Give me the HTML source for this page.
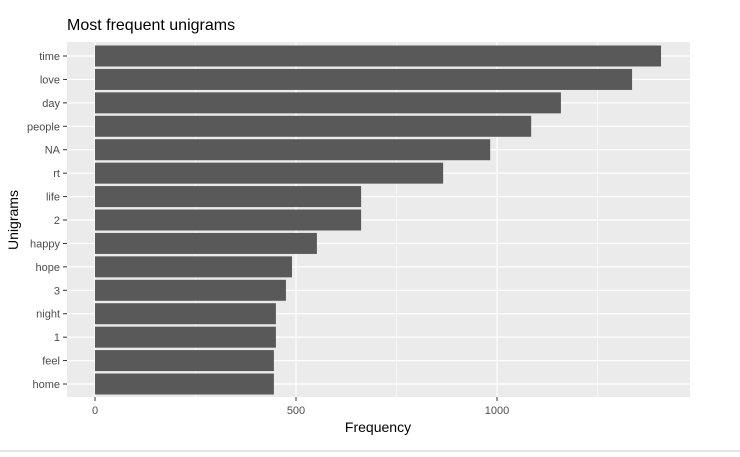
<!DOCTYPE html>
<html><head><meta charset="utf-8"><style>
body{margin:0;background:#fff;width:740px;height:452px;overflow:hidden;font-family:"Liberation Sans",Arial,sans-serif}
</style></head><body>
<svg width="740" height="452">
<rect x="0" y="450" width="740" height="2" fill="#e6e6e6"/>
<text x="67" y="30" font-size="16" fill="#000">Most frequent unigrams</text>
<rect x="67" y="42" width="623" height="355" fill="#ebebeb"/>
<g id="grid"></g><g id="bars"></g><g id="axes"></g>
<text x="378" y="432" font-size="14" text-anchor="middle" fill="#000">Frequency</text>
<text transform="translate(18,220) rotate(-90)" font-size="14" text-anchor="middle" fill="#000">Unigrams</text>
</svg>
<script>
const categories=["time","love","day","people","NA","rt","life","2","happy","hope","3","night","1","feel","home"];
const values=[1408,1336,1159,1085,983,866,662,662,552,490,475,450,450,445,445];
const xTicks=[0,500,1000];
const ns="http://www.w3.org/2000/svg";
const x0=95,pxPer=0.402,rowTop=56,rowStep=23.43,bh=21;
const xs=v=>x0+v*pxPer, ys=i=>rowTop+i*rowStep;
function mk(t,a,p){const e=document.createElementNS(ns,t);for(const k in a)e.setAttribute(k,a[k]);p.appendChild(e);return e;}
const grid=document.getElementById('grid'),bars=document.getElementById('bars'),axes=document.getElementById('axes');
[250,750,1250].forEach(v=>{const l=mk('line',{x1:xs(v),x2:xs(v),y1:42,y2:397,stroke:'#fff','stroke-width':0.6},grid);

});
xTicks.forEach(v=>{const l=mk('line',{x1:xs(v),x2:xs(v),y1:42,y2:397,stroke:'#fff','stroke-width':1.2},grid);


const t=mk('line',{x1:xs(v),x2:xs(v),y1:397,y2:401,stroke:'#333'},axes);


const tx=mk('text',{x:xs(v),y:414,'font-size':11,'text-anchor':'middle',fill:'#4d4d4d'},axes);tx.textContent=v;

});
categories.forEach((c,i)=>{const y=ys(i);
const g=mk('line',{x1:67,x2:690,y1:y,y2:y,stroke:'#fff','stroke-width':1.2},grid);


const r=mk('rect',{x:xs(0),y:y-bh/2,width:values[i]*pxPer,height:bh,fill:'#595959'},bars);


const t=mk('line',{x1:63,x2:67,y1:y,y2:y,stroke:'#333'},axes);


const tx=mk('text',{x:60,y:y+4,'font-size':11,'text-anchor':'end',fill:'#4d4d4d'},axes);tx.textContent=c;

});
</script>
</body></html>
